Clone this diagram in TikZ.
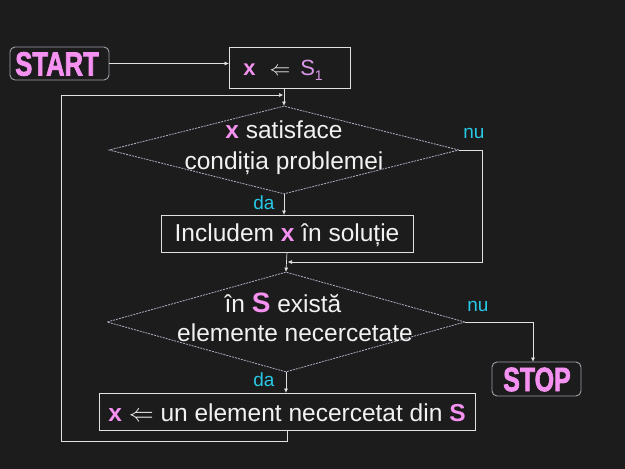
\documentclass[tikz,border=0pt]{standalone}
\usepackage{fontspec}
\setmainfont{Liberation Sans}
\newfontfamily\termfont{Liberation Sans}[BoldFeatures={FakeBold=2.5}]
\usetikzlibrary{shapes.geometric,arrows.meta}
\definecolor{bg}{RGB}{28,28,28}
\definecolor{pinkx}{RGB}{245,145,240}
\definecolor{violx}{RGB}{215,150,230}
\definecolor{cyanx}{RGB}{40,200,230}
\definecolor{linex}{RGB}{225,225,225}
\definecolor{dashx}{RGB}{175,175,195}
\definecolor{termx}{RGB}{160,160,170}
\definecolor{txt}{RGB}{242,242,242}
\tikzset{
  boxx/.style={draw=linex, line width=0.8pt, rectangle, inner sep=0pt},
  termbox/.style={draw=termx, line width=0.9pt, rectangle, rounded corners=5pt, inner sep=0pt},
  decx/.style={draw=dashx, line width=0.8pt, dash pattern=on 2pt off 1pt, diamond, inner sep=0pt},
  txtx/.style={text=txt, font=\fontsize{24.5}{28}\selectfont, align=center, inner sep=0pt},
  lab/.style={text=cyanx, font=\fontsize{19}{22}\selectfont, inner sep=0pt},
  con/.style={draw=linex, line width=0.7pt},
  arr/.style={con, -{Triangle[length=4pt,width=3.5pt]}},
  termtxt/.style={text=pinkx, font=\termfont\bfseries\fontsize{32}{34}\selectfont, inner sep=0pt}
}
\newcommand{\px}{\textcolor{pinkx}{\textbf{x}}}
\begin{document}
\begin{tikzpicture}[x=1pt,y=-1pt]
\useasboundingbox[fill=bg] (0,0) rectangle (625,469);
% nodes
\node[termbox, minimum width=99pt, minimum height=33pt] (start) at (59.5,63.5) {};
\node[termtxt] (startt) at (57,64) {\scalebox{0.8}[1.05]{START}};
\node[boxx, minimum width=121pt, minimum height=41pt] (init) at (289.5,67.5) {};
\node[txtx, font=\fontsize{22}{26}\selectfont] (initt) at (283,70) {\px\hspace{14pt}$\Leftarrow$\hspace{10pt}\textcolor{violx}{S\raisebox{-5pt}{\fontsize{14}{16}\selectfont 1}}};
\node[decx, minimum width=350pt, minimum height=88pt] (dec1) at (284,150) {};
\node[txtx] (dec1t) at (284,148) {\px{} satisface\\[3pt]condiția problemei};
\node[boxx, minimum width=252pt, minimum height=37pt] (inc) at (287,233.5) {};
\node[txtx] (inct) at (287,235) {Includem \px{} în soluție};
\node[decx, minimum width=358pt, minimum height=100pt] (dec2) at (286,322) {};
\node[txtx, anchor=center] (dec2a) at (283,303) {în \textcolor{pinkx}{\textbf{\fontsize{28}{28}\selectfont S}} există};
\node[txtx] (dec2b) at (295,333) {elemente necercetate};
\node[termbox, minimum width=89pt, minimum height=34pt] (stop) at (536.5,379) {};
\node[termtxt] (stopt) at (537,379.5) {\scalebox{0.78}[1.05]{STOP}};
\node[boxx, minimum width=376pt, minimum height=37pt] (next) at (287,411.5) {};
\node[txtx] (nextt) at (287,413) {\px{} $\Leftarrow$ un element necercetat din \textcolor{pinkx}{\textbf{S}}};
% labels
\node[lab] (nu1) at (474,133) {nu};
\node[lab] (da1) at (264,203) {da};
\node[lab] (nu2) at (478,306) {nu};
\node[lab] (da2) at (264,380) {da};
% coordinates
\coordinate (c1) at (482,150);
\coordinate (c2) at (482,262);
\coordinate (j1) at (288,262);
\coordinate (c3) at (533,322);
\coordinate (l1) at (287,441);
\coordinate (l2) at (61,441);
\coordinate (l3) at (61,95);
\coordinate (j0) at (283,95);
% connectors
\draw[arr] (start.east) -- (start.east -| init.west);
\draw[arr] (dec1.north |- init.south) -- (dec1.north);
\draw[arr] (dec1.south) -- (dec1.south |- inc.north);
\draw[arr] (inc.south) -- (dec2.north);
\draw[arr] (dec1.east) -- (c1) -- (c2) -- (j1);
\draw[arr] (dec2.east) -- (c3) -- (c3 |- stop.north);
\draw[arr] (dec2.south) -- (dec2.south |- next.north);
\draw[arr] (next.south) -- (l1) -- (l2) -- (l3) -- (j0);
\end{tikzpicture}
\end{document}
